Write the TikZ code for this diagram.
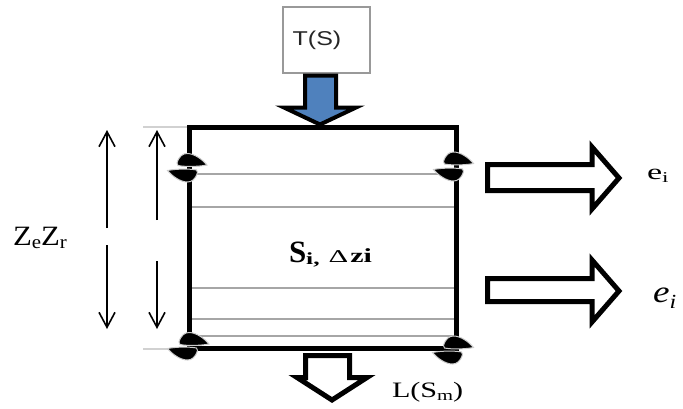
\documentclass[tikz,border=0pt]{standalone}
\usepackage{graphicx}
\usepackage{fontspec}
\setmainfont{Liberation Serif}
\newfontfamily\labelsans{Liberation Sans}
\usetikzlibrary{arrows.meta}
\definecolor{flowblue}{RGB}{79,129,189}
\newcommand{\fs}[1]{\fontsize{#1}{#1}\selectfont}
\newcommand{\wide}[2]{\scalebox{#1}[1]{#2}}

\begin{document}
\begin{tikzpicture}[x=1pt,y=-1pt,
  tankwall/.style={draw=black, line width=5pt, line join=miter, inner sep=0pt, outer sep=0pt},
  layer/.style={draw=black!35, line width=1.5pt},
  guide/.style={draw=black!18, line width=1.5pt},
  dimarrow/.style={line width=1.6pt, -{Straight Barb[length=15pt,width=16pt,line width=1.6pt]}},
  blockarrow/.style={draw=black, line width=5pt, line join=miter, fill=white},
  txt/.style={inner sep=0pt, outer sep=0pt, anchor=base west},
  pin/.pic={\path[fill=black, draw=black!20, line width=1pt]
     (-15,3) .. controls (-13,-4) and (-9,-6.5) .. (-5,-6.5)
     .. controls (2,-6.5) and (10,-1) .. (15,5)
     .. controls (6,6.8) and (-8,6.8) .. (-14,5.5)
     .. controls (-15,5) .. (-15,3) -- cycle;},
]
\useasboundingbox (0,0) rectangle (683,408);

% light guide lines marking the top and bottom of the column
\draw[guide] (143,127) -- (189,127);
\draw[guide] (143,349) -- (189,349);

% layer boundaries inside the soil column
\foreach \yy in {174,207,288,319,336}
  \draw[layer] (189,\yy) -- (456,\yy);

% soil column
\node[tankwall, minimum width=267pt, minimum height=221pt, anchor=north west] (tank) at (189,127) {};

% input box and its inflow arrow
\node[draw=black!40, line width=1.5pt, fill=white, minimum width=87pt, minimum height=66pt, inner sep=0pt] (tsbox) at (326.5,40) {};
\node[inner sep=0pt, text=black!85] (tslabel) at (317,40) {\labelsans\fs{20}\wide{1.25}{T(S)}};
\draw[blockarrow, fill=flowblue, line width=4pt] (305,75.5) -- (336,75.5) -- (336,107.5) -- (356,107.5)
  -- (320,124.5) -- (284,107.5) -- (305,107.5) -- cycle;

% outflow arrows
\draw[blockarrow] (487.5,164.5) -- (592,164.5) -- (592,147) -- (619,178) -- (592,209)
  -- (592,190.5) -- (487.5,190.5) -- cycle;
\draw[blockarrow] (487.5,278.5) -- (592,278.5) -- (592,260) -- (619,291) -- (592,322)
  -- (592,301.5) -- (487.5,301.5) -- cycle;
\draw[blockarrow] (305.5,355.5) -- (349.5,355.5) -- (349.5,377.5) -- (367,377.5)
  -- (332,400) -- (297,377.5) -- (305.5,377.5) -- cycle;

% depth arrows
\coordinate (outerUpFrom) at (107,228);
\coordinate (outerUpTo) at (107,130);
\coordinate (outerDownFrom) at (107,245);
\coordinate (outerDownTo) at (107,329);
\coordinate (innerUpFrom) at (157,220);
\coordinate (innerUpTo) at (157,130);
\coordinate (innerDownFrom) at (157,261);
\coordinate (innerDownTo) at (157,329);
\draw[dimarrow] (outerUpFrom) -- (outerUpTo);
\draw[dimarrow] (outerDownFrom) -- (outerDownTo);
\draw[dimarrow] (innerUpFrom) -- (innerUpTo);
\draw[dimarrow] (innerDownFrom) -- (innerDownTo);

% pins on the column wall
\pic at (192,160) {pin};
\pic[rotate=180] at (182.5,175.5) {pin};
\pic at (458.5,158.5) {pin};
\pic[rotate=180] at (448.5,174.5) {pin};
\pic at (194,339) {pin};
\pic[rotate=180] at (182.5,353.5) {pin};
\pic at (458.5,342.5) {pin};
\pic[rotate=180] at (447.5,357.5) {pin};

% labels
\node[txt] (zlabel) at (13,245) {\wide{1.1}{\fs{28}Z\raisebox{-3pt}{\fs{19}e}Z\raisebox{-3pt}{\fs{19}r}}};
\node[txt] (slabel) at (289,262) {{\fs{31}\bfseries S}\raisebox{-2pt}{\fs{17}\bfseries\wide{1.5}{i,}}\hspace{9pt}{\fs{18}\wide{1.7}{Δ}}\hspace{2pt}{\fs{20}\bfseries\wide{1.5}{zi}}};
\node[txt] (elabel) at (647,179) {\wide{1.55}{\fs{22}e\raisebox{-3pt}{\fs{15}i}}};
\node[txt] (eitlabel) at (653,302) {\wide{1.2}{\itshape\fs{31}e\raisebox{-6pt}{\fs{20}i}}};
\node[txt] (llabel) at (392,397) {\wide{1.37}{\fs{22}L(S\raisebox{-3pt}{\fs{15}m})}};
\end{tikzpicture}
\end{document}
